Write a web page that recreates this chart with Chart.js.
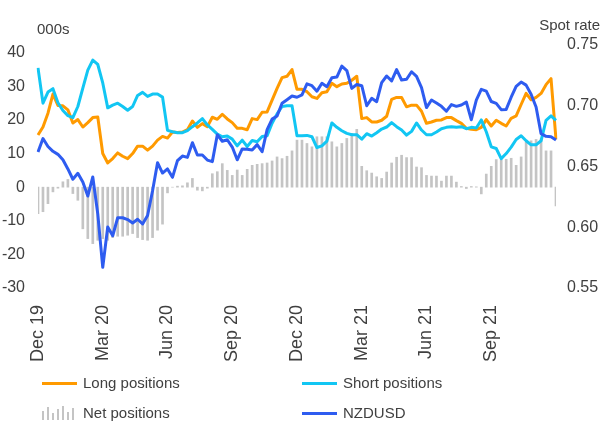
<!DOCTYPE html>
<html>
<head>
<meta charset="utf-8">
<script src="https://cdn.jsdelivr.net/npm/chart.js@4"></script>
<style>
  html, body { margin: 0; padding: 0; background: #fff; }
  #wrap { position: relative; width: 602px; height: 430px; font-family: "Liberation Sans", Arial, sans-serif; color: #404040; }
  #chart { position: absolute; left: 0; top: 0; }
  .lbl { position: absolute; font-size: 15px; line-height: 18px; white-space: nowrap; }
  .swatch { position: absolute; height: 3px; width: 35px; }
  .netswatch { position: absolute; width: 35px; height: 14px; display: flex; align-items: flex-end; gap: 3px; }
  .netswatch span { display: block; width: 2px; background: #c4c4c4; }
</style>
</head>
<body>
<div id="wrap">
  <canvas id="chart" width="602" height="430"></canvas>
  <div class="lbl" style="left:37px; top:20px;">000s</div>
  <div class="lbl" style="right:2px; top:16px;">Spot rate</div>

  <div class="swatch" style="left:42px; top:382px; background:#ff9a00;"></div>
  <div class="lbl" style="left:83px; top:374px;">Long positions</div>
  <div class="swatch" style="left:302px; top:382px; background:#12c6f3;"></div>
  <div class="lbl" style="left:343px; top:374px;">Short positions</div>

  <div class="netswatch" id="netSwatch" style="left:42px; top:406px;"></div>
  <div class="lbl" style="left:83px; top:404px;">Net positions</div>
  <div class="swatch" style="left:302px; top:412px; background:#2e5cf0;"></div>
  <div class="lbl" style="left:343px; top:404px;">NZDUSD</div>
</div>

<script>
/* ── Data: weekly, Dec 2019 → Dec 2021 (000s contracts / spot rate) ── */
const tickLabels = ['Dec 19', 'Mar 20', 'Jun 20', 'Sep 20', 'Dec 20', 'Mar 21', 'Jun 21', 'Sep 21'];
const tickIndex  = [0, 13, 26, 39, 52, 65, 78, 91];
const leftTicks  = [-30, -20, -10, 0, 10, 20, 30, 40];
const rightTicks = [0.55, 0.60, 0.65, 0.70, 0.75];

const longPos = [
  15.5, 17.9, 22.0, 27.7, 24.3, 24.2, 23.0, 19.1, 20.1, 17.9, 19.2, 20.7, 20.9,
  10.0, 7.2, 8.5, 10.2, 9.2, 8.5, 10.0, 12.2, 12.2, 11.0, 12.2, 14.0, 15.1,
  14.6, 16.4, 16.3, 16.4, 17.1, 19.7, 17.8, 18.9, 18.0, 20.8, 20.2, 21.7, 20.3,
  19.2, 17.5, 17.5, 17.1, 20.4, 20.1, 22.3, 22.4, 25.9, 29.4, 32.6, 33.0, 35.0,
  29.1, 29.1, 28.4, 26.9, 26.4, 28.1, 28.4, 30.9, 29.9, 30.7, 30.9, 31.8, 33.0,
  20.4, 20.7, 19.4, 19.4, 19.9, 21.1, 26.1, 26.7, 26.7, 23.9, 24.4, 24.4, 22.6,
  19.0, 19.4, 19.9, 20.0, 20.7, 20.7, 19.8, 19.0, 17.5, 17.2, 17.1, 17.8, 20.1,
  18.2, 19.9, 19.0, 18.2, 20.5, 21.2, 24.6, 27.9, 26.0, 26.7, 27.9, 30.5, 32.3,
  14.2
];
const shortPos = [
  35.5, 25.0, 28.3, 29.3, 25.1, 22.8, 21.3, 20.7, 24.0, 29.5, 34.8, 37.8, 36.5,
  31.0, 23.6, 24.4, 25.0, 24.0, 22.9, 24.0, 27.3, 28.2, 27.0, 27.7, 27.7, 26.8,
  16.9, 16.5, 16.2, 16.2, 16.8, 18.0, 19.1, 20.4, 18.5, 17.2, 15.8, 15.0, 15.2,
  14.3, 12.3, 14.0, 12.1, 13.9, 13.5, 15.1, 15.3, 19.0, 21.8, 24.0, 24.2, 24.2,
  15.3, 15.3, 15.4, 15.0, 11.8, 12.3, 13.7, 19.1, 17.8, 16.8, 16.0, 15.6, 15.6,
  14.3, 15.9, 15.2, 16.2, 17.3, 17.9, 19.2, 18.0, 17.0, 15.5, 16.6, 19.1, 17.0,
  15.6, 15.6, 16.4, 17.4, 17.8, 18.0, 17.8, 18.0, 17.4, 17.8, 17.6, 20.0, 16.5,
  12.0, 11.5, 8.5, 10.0, 11.9, 14.2, 15.3, 13.8, 12.6, 12.6, 13.8, 19.9, 21.2,
  19.9
];
const netPos = [
  -7.9, -7.3, -4.9, -1.4, -0.3, 1.6, 2.3, -1.9, -3.9, -12.4, -15.3, -16.8, -15.8,
  -15.3, -15.8, -15.0, -14.6, -14.6, -14.3, -13.8, -15.0, -15.6, -15.8, -15.0, -12.8, -11.0,
  -1.7, 0.0, 0.3, 0.4, 1.3, 2.6, -0.9, -1.1, -0.3, 4.0, 4.6, 7.0, 5.0,
  3.5, 5.1, 3.5, 5.3, 6.5, 6.8, 7.0, 7.2, 7.8, 9.0, 8.5, 9.2, 10.8,
  14.0, 14.0, 13.0, 12.0, 15.0, 15.0, 15.0, 13.5, 12.0, 13.0, 14.5, 16.0, 17.2,
  6.2, 4.9, 4.2, 3.1, 2.6, 4.5, 7.2, 8.9, 9.5, 8.8, 8.8, 6.0, 5.8,
  3.5, 3.3, 3.3, 1.8, 3.3, 3.3, 1.5, 0.2, -0.4, 0.2, 0.1, -2.0, 3.9,
  6.2, 8.2, 8.2, 8.3, 8.6, 6.5, 9.0, 13.4, 13.8, 14.2, 14.4, 10.8, 10.8,
  -5.6
];
const nzdusd = [
  0.662, 0.673, 0.6665, 0.6625, 0.660, 0.6555, 0.648, 0.6395, 0.6444, 0.6372, 0.6257, 0.6414, 0.611,
  0.567, 0.6003, 0.593, 0.6078, 0.6078, 0.6063, 0.6035, 0.6066, 0.6027, 0.6097, 0.630, 0.6531, 0.6446,
  0.648, 0.6411, 0.6548, 0.6586, 0.6575, 0.6696, 0.6595, 0.6595, 0.6553, 0.654, 0.6762, 0.6708, 0.672,
  0.666, 0.6555, 0.6645, 0.6642, 0.6635, 0.668, 0.6622, 0.6803, 0.689, 0.6916, 0.702, 0.705, 0.708,
  0.707, 0.709, 0.718, 0.7165, 0.712, 0.7185, 0.7157, 0.723, 0.7236, 0.7327, 0.729, 0.7143, 0.7175,
  0.7165, 0.700, 0.7061, 0.7033, 0.719, 0.7245, 0.7205, 0.7297, 0.7212, 0.7218, 0.728, 0.7242, 0.715,
  0.6985, 0.7047, 0.7022, 0.6995, 0.6955, 0.701, 0.6995, 0.7006, 0.703, 0.6885, 0.7047, 0.7135, 0.712,
  0.7035, 0.702, 0.6968, 0.697, 0.707, 0.716, 0.7195, 0.717, 0.7095, 0.699, 0.677, 0.6748, 0.6745,
  0.6718
];

// weekly category labels (only the quarterly ones are shown on the axis)
const start = new Date(2019, 11, 3);
const weeks = longPos.map((_, i) => {
  const d = new Date(start.getTime() + i * 7 * 86400000);
  return d.toISOString().slice(0, 10);
});

const ORANGE = '#ff9a00', CYAN = '#12c6f3', BLUE = '#2e5cf0', GREY = '#c4c4c4', TEXT = '#404040';
const FONT = '"Liberation Sans", Arial, sans-serif';

/* ── legend swatch for the bar series ── */
const sw = document.getElementById('netSwatch');
[9, 13, 7, 11, 14, 8, 12].forEach(h => {
  const s = document.createElement('span');
  s.style.height = h + 'px';
  sw.appendChild(s);
});

/* ── Chart ── */
const lineDs = (label, data, color, axis, order) => ({
  type: 'line', label, data, yAxisID: axis, order,
  borderColor: color, borderWidth: 3, pointRadius: 0, tension: 0,
  borderJoinStyle: 'round', fill: false
});

new Chart(document.getElementById('chart'), {
  type: 'bar',
  data: {
    labels: weeks,
    datasets: [
      lineDs('NZDUSD', nzdusd, BLUE, 'y2', 1),
      lineDs('Short positions', shortPos, CYAN, 'y', 2),
      lineDs('Long positions', longPos, ORANGE, 'y', 3),
      { type: 'bar', label: 'Net positions', data: netPos, yAxisID: 'y', order: 4,
        backgroundColor: GREY, barThickness: 2 }
    ]
  },
  options: {
    responsive: false,
    animation: false,
    devicePixelRatio: 1,
    layout: { padding: { top: 45, left: 0, right: 0, bottom: 0 } },
    plugins: { legend: { display: false }, tooltip: { enabled: false } },
    scales: {
      x: {
        type: 'category', offset: false,
        grid: { display: false, drawTicks: false }, border: { display: false },
        ticks: {
          autoSkip: false, minRotation: 90, maxRotation: 90, padding: 17,
          color: TEXT, font: { family: FONT, size: 18 },
          callback: (v, i) => {
            const k = tickIndex.indexOf(i);
            return k >= 0 ? tickLabels[k] : '';
          }
        },
        afterFit: s => { s.height = 430 - 288; }
      },
      y: {
        position: 'left', min: -30, max: 42.3,
        grid: { display: false, drawTicks: false }, border: { display: false },
        afterBuildTicks: s => { s.ticks = leftTicks.map(v => ({ value: v })); },
        ticks: { padding: 13, color: TEXT, font: { family: FONT, size: 16 } },
        afterFit: s => { s.width = 38; }
      },
      y2: {
        position: 'right', min: 0.55, max: 0.75,
        grid: { display: false, drawTicks: false }, border: { display: false },
        afterBuildTicks: s => { s.ticks = rightTicks.map(v => ({ value: v })); },
        ticks: { padding: 11, color: TEXT, font: { family: FONT, size: 16 }, callback: v => Number(v).toFixed(2) },
        afterFit: s => { s.width = 46; }
      }
    }
  }
});
</script>
</body>
</html>
